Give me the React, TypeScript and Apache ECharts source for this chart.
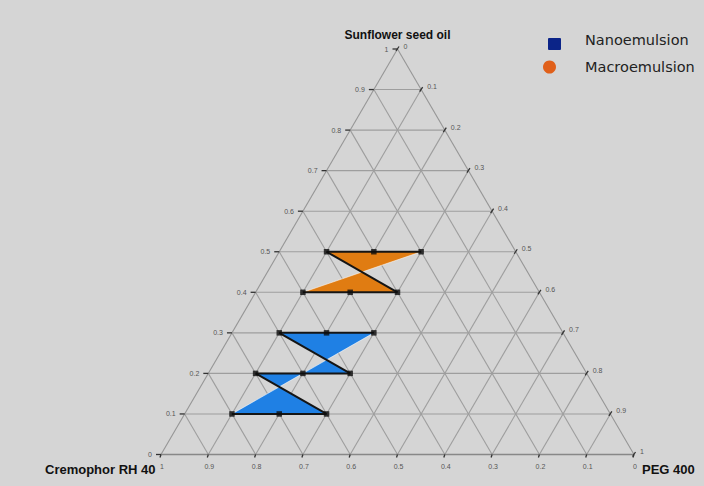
import React, { useEffect, useRef } from "react";
import * as echarts from "echarts";

// ---- data ----
const ticks = [0, 0.1, 0.2, 0.3, 0.4, 0.5, 0.6, 0.7, 0.8, 0.9, 1];
// oil fraction along left edge (bottom -> top)
const leftLabels = ["0", "0.1", "0.2", "0.3", "0.4", "0.5", "0.6", "0.7", "0.8", "0.9", "1"];
// PEG 400 fraction along right edge (top -> bottom)
const rightLabels = ["0", "0.1", "0.2", "0.3", "0.4", "0.5", "0.6", "0.7", "0.8", "0.9", "1"];
// Cremophor RH 40 fraction along base (left -> right)
const bottomLabels = ["1", "0.9", "0.8", "0.7", "0.6", "0.5", "0.4", "0.3", "0.2", "0.1", "0"];

const topTitle = "Sunflower seed oil";
const leftTitle = "Cremophor RH 40";
const rightTitle = "PEG 400";
const seriesNames = ["Nanoemulsion", "Macroemulsion"];

// points are [oil, peg]
const macroOutline = [[0.5, 0.1], [0.5, 0.3], [0.4, 0.1], [0.4, 0.3]];
const macroBorder = [[0, 1], [2, 3], [3, 0]];
const macroLight = [[1, 2]];
const macroPoints = [[0.5, 0.1], [0.5, 0.2], [0.5, 0.3], [0.4, 0.1], [0.4, 0.2], [0.4, 0.3]];

const nanoOutline = [[0.3, 0.1], [0.3, 0.3], [0.1, 0.1], [0.1, 0.3], [0.2, 0.1], [0.2, 0.3]];
const nanoBorder = [[0, 1], [2, 3], [3, 4], [4, 5], [5, 0]];
const nanoLight = [[1, 2]];
const nanoPoints = [
  [0.3, 0.1], [0.3, 0.2], [0.3, 0.3],
  [0.2, 0.1], [0.2, 0.2], [0.2, 0.3],
  [0.1, 0.1], [0.1, 0.2], [0.1, 0.3],
];

const toXY = (oil: number, peg: number) => [peg + oil / 2, oil];

export default function App() {
  const ref = useRef<HTMLDivElement>(null);
  useEffect(() => {
    if (!ref.current) return;
    const chart = echarts.init(ref.current, undefined, { renderer: "svg" });

    // grid segments [x1,y1,x2,y2,isEdge]
    const segs: number[][] = [];
    const seg = (a: number[], b: number[], edge: number) => {
      const p = toXY(a[0], a[1]);
      const q = toXY(b[0], b[1]);
      segs.push([p[0], p[1], q[0], q[1], edge]);
    };
    ticks.forEach((t) => {
      if (t <= 0 || t >= 1) return;
      seg([t, 0], [t, 1 - t], 0);
      seg([0, t], [1 - t, t], 0);
      seg([0, 1 - t], [1 - t, 0], 0);
    });
    seg([0, 0], [1, 0], 1);
    seg([0, 1], [1, 0], 1);
    seg([0, 0], [0, 1], 2);

    // tick labels [x, y, kind, index]
    const lab: number[][] = [];
    ticks.forEach((t, i) => {
      const l = toXY(t, 0);
      lab.push([l[0], l[1], 0, i]);
      const r = toXY(1 - t, t);
      lab.push([r[0], r[1], 1, i]);
      const b = toXY(0, t);
      lab.push([b[0], b[1], 2, i]);
    });

    const tickFont = "7px 'Liberation Sans', Arial, sans-serif";

    const regionSeries = (outline: number[][], border: number[][], light: number[][], fill: string) => ({
      type: "custom",
      coordinateSystem: "cartesian2d",
      clip: false,
      z: 3,
      data: outline.map((p) => toXY(p[0], p[1])),
      renderItem: (params: any, api: any) => {
        if (params.dataIndex !== 0) return null;
        const pts = outline.map((p) => api.coord(toXY(p[0], p[1])));
        const children: any[] = [
          { type: "polygon", shape: { points: pts }, style: { fill, stroke: "none" } },
        ];
        light.forEach(([a, b]) => {
          children.push({
            type: "line",
            shape: { x1: pts[a][0], y1: pts[a][1], x2: pts[b][0], y2: pts[b][1] },
            style: { stroke: "rgba(255,255,255,0.55)", lineWidth: 1 },
          });
        });
        border.forEach(([a, b]) => {
          children.push({
            type: "line",
            shape: { x1: pts[a][0], y1: pts[a][1], x2: pts[b][0], y2: pts[b][1] },
            style: { stroke: "#151515", lineWidth: 2 },
          });
        });
        return { type: "group", children };
      },
    });

    chart.setOption({
      animation: false,
      backgroundColor: "#d5d5d5",
      grid: { left: 161, right: 70, top: 49, bottom: 31.5 },
      xAxis: { type: "value", min: 0, max: 1, show: false },
      yAxis: { type: "value", min: 0, max: 1, show: false },
      series: [
        {
          type: "custom",
          coordinateSystem: "cartesian2d",
          clip: false,
          z: 1,
          data: segs,
          renderItem: (params: any, api: any) => {
            const a = api.coord([api.value(0), api.value(1)]);
            const b = api.coord([api.value(2), api.value(3)]);
            const e = api.value(4);
            return {
              type: "line",
              shape: { x1: a[0], y1: a[1], x2: b[0], y2: b[1] },
              style: { stroke: e === 2 ? "#888" : e === 1 ? "#969696" : "#9e9e9e", lineWidth: e === 2 ? 1.6 : 1.1 },
            };
          },
        },
        {
          type: "custom",
          coordinateSystem: "cartesian2d",
          clip: false,
          z: 2,
          data: lab,
          renderItem: (params: any, api: any) => {
            const p = api.coord([api.value(0), api.value(1)]);
            const kind = api.value(2);
            const i = api.value(3);
            if (kind === 0) {
              return {
                type: "group",
                children: [
                  { type: "line", shape: { x1: p[0] - 5, y1: p[1], x2: p[0], y2: p[1] }, style: { stroke: "#333", lineWidth: 1.3 } },
                  { type: "text", x: p[0] - 9, y: p[1], style: { text: leftLabels[i], fill: "#555", font: tickFont, align: "right", verticalAlign: "middle" } },
                ],
              };
            } else if (kind === 1) {
              return {
                type: "group",
                children: [
                  { type: "line", shape: { x1: p[0] - 1.5, y1: p[1] + 2, x2: p[0] + 1.5, y2: p[1] - 2.5 }, style: { stroke: "#333", lineWidth: 1.3 } },
                  { type: "text", x: p[0] + 6, y: p[1] - 3, style: { text: rightLabels[i], fill: "#555", font: tickFont, align: "left", verticalAlign: "middle" } },
                ],
              };
            }
            return {
              type: "group",
              children: [
                { type: "line", shape: { x1: p[0], y1: p[1], x2: p[0] - 1, y2: p[1] + 3 }, style: { stroke: "#333", lineWidth: 1.3 } },
                { type: "text", x: p[0] + 1, y: p[1] + 12, style: { text: bottomLabels[i], fill: "#555", font: tickFont, align: "center", verticalAlign: "middle" } },
              ],
            };
          },
        },
        { ...regionSeries(macroOutline, macroBorder, macroLight, "#e07c12"), name: seriesNames[1] },
        { ...regionSeries(nanoOutline, nanoBorder, nanoLight, "#1f80e4"), name: seriesNames[0] },
        {
          type: "scatter",
          name: seriesNames[1] + " points",
          symbol: "rect",
          symbolSize: 5.5,
          z: 5,
          itemStyle: { color: "#0d0d0d" },
          data: macroPoints.map((p) => toXY(p[0], p[1])),
        },
        {
          type: "scatter",
          name: seriesNames[0] + " points",
          symbol: "rect",
          symbolSize: 5.5,
          z: 5,
          itemStyle: { color: "#0d0d0d" },
          data: nanoPoints.map((p) => toXY(p[0], p[1])),
        },
      ],
      graphic: [
        {
          type: "text",
          x: 397.5,
          y: 35,
          style: { text: topTitle, fill: "#111", font: "bold 12px 'Liberation Sans', Arial, sans-serif", align: "center", verticalAlign: "middle" },
        },
        {
          type: "text",
          x: 45,
          y: 469,
          style: { text: leftTitle, fill: "#111", font: "bold 13px 'Liberation Sans', Arial, sans-serif", align: "left", verticalAlign: "middle" },
        },
        {
          type: "text",
          x: 642,
          y: 469,
          style: { text: rightTitle, fill: "#111", font: "bold 13px 'Liberation Sans', Arial, sans-serif", align: "left", verticalAlign: "middle" },
        },
        {
          type: "rect",
          shape: { x: 548, y: 38, width: 13, height: 12, r: 1 },
          style: { fill: "#0b2488" },
        },
        {
          type: "circle",
          shape: { cx: 549.5, cy: 67, r: 6.5 },
          style: { fill: "#e0601a" },
        },
        {
          type: "text",
          x: 585,
          y: 40,
          style: { text: seriesNames[0], fill: "#222", font: "14.5px 'DejaVu Sans', sans-serif", align: "left", verticalAlign: "middle" },
        },
        {
          type: "text",
          x: 585,
          y: 67,
          style: { text: seriesNames[1], fill: "#222", font: "14.5px 'DejaVu Sans', sans-serif", align: "left", verticalAlign: "middle" },
        },
      ],
    });
    return () => chart.dispose();
  }, []);
  return <div ref={ref} style={{ position: "fixed", left: 0, top: 0, width: 704, height: 486 }} />;
}
